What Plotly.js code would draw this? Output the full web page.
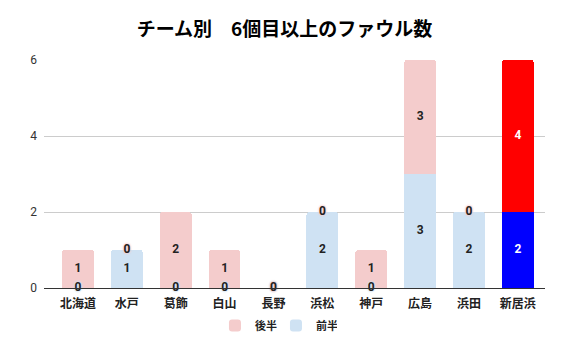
<!DOCTYPE html>
<html><head><meta charset="utf-8">
<script src="https://cdn.plot.ly/plotly-3.0.1.min.js"></script>
<style>body{margin:0;background:#fff}</style>
</head><body><div id="chart" style="width:569px;height:352px"></div>
<script>
const categories = ['北海道','水戸','葛飾','白山','長野','浜松','神戸','広島','浜田','新居浜'];
const firstHalf = [0,1,0,0,0,2,0,3,2,2];   // 前半
const secondHalf = [1,0,2,1,0,0,1,3,0,4];  // 後半
const tickVals = [0,2,4,6];

const pink = '#f4cccc', blue = '#cfe2f3';
const last = categories.length - 1;
const firstColors = categories.map((c,i)=> i===last ? '#0000ff' : blue);
const secondColors = categories.map((c,i)=> i===last ? '#ff0000' : pink);

const font = "'Noto Sans CJK JP', 'Noto Sans', sans-serif";
const halo = c => `0px 0px 2px ${c}, 0px 0px 2px ${c}, 0px 0px 3px ${c}`;

function labelTraces(vals, bases, haloColor) {
  const out = [];
  const groups = [
    {pick:(v,i)=> v===0, shadow:halo(haloColor)},
    {pick:(v,i)=> v!==0, shadow:'none'}
  ];
  groups.forEach(g => {
    const xs=[], ys=[], ts=[], cs=[];
    vals.forEach((v,i)=>{ if(g.pick(v,i)){ xs.push(categories[i]); ys.push(bases[i]+v/2); ts.push(String(v)); cs.push(i===last?'#ffffff':'#222222'); }});
    out.push({type:'scatter', mode:'text', x:xs, y:ys, text:ts,
      textfont:{family:"Roboto, sans-serif", size:12, color:cs, weight:700, shadow:g.shadow},
      showlegend:false, hoverinfo:'skip', cliponaxis:false});
  });
  return out;
}

const traces = [
  {type:'bar', name:'前半', x:categories, y:firstHalf, marker:{color:firstColors}, legendrank:2, hoverinfo:'skip'},
  {type:'bar', name:'後半', x:categories, y:secondHalf, marker:{color:secondColors}, legendrank:1, hoverinfo:'skip'},
  ...labelTraces(firstHalf, categories.map(()=>0), blue),
  ...labelTraces(secondHalf, firstHalf, pink)
];

const layout = {
  width:569, height:352,
  margin:{l:44, r:24, t:60, b:64, autoexpand:false},
  paper_bgcolor:'#ffffff', plot_bgcolor:'#ffffff',
  barmode:'stack', bargap:0.35, barcornerradius:3,
  title:{text:'チーム別　6個目以上のファウル数', x:0.5, xanchor:'center', y:0.918, yanchor:'middle',
         font:{family:font, size:19, color:'#000000', weight:700}},
  xaxis:{type:'category', range:[-0.695, 9.555], tickfont:{family:font, size:12, color:'#222222', weight:700},
         showgrid:false, showline:true, linecolor:'#333333', linewidth:1, ticks:'', ticklen:0,
         ticklabelstandoff:5},
  yaxis:{range:[0,6], tickvals:tickVals, ticktext:tickVals.map(String),
         tickfont:{family:"Roboto, sans-serif", size:12, color:'#333333'},
         gridcolor:'#cccccc', gridwidth:1, zeroline:true, zerolinecolor:'#333333', zerolinewidth:1,
         showline:false, ticks:'', ticklabelstandoff:6},
  legend:{orientation:'h', x:0.485, xref:'container', xanchor:'center', yref:'container', y:0.075, yanchor:'middle',
          font:{family:font, size:11, color:'#222222', weight:700}, traceorder:'normal',
          itemwidth:30, entrywidth:16, entrywidthmode:'pixels'},
  showlegend:true
};

Plotly.newPlot('chart', traces, layout, {displayModeBar:false, staticPlot:true});
</script></body></html>
